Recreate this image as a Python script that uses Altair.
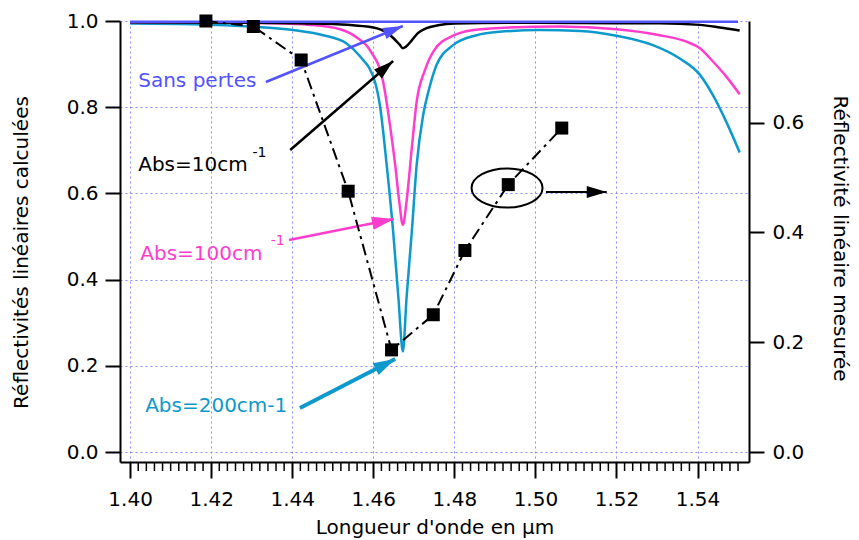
import math
import altair as alt
import pandas as pd

# ---------------- data ----------------
# calculated reflectivities (left axis)
wl_sans = [1.400, 1.420, 1.440, 1.460, 1.480, 1.500, 1.520, 1.540, 1.550]
r_sans = [0.998, 0.998, 0.998, 0.998, 0.998, 0.998, 0.998, 0.998, 0.998]

wl_abs10 = [1.400, 1.430, 1.450, 1.455, 1.460, 1.463, 1.465, 1.4665, 1.4673, 1.468,
            1.4695, 1.471, 1.473, 1.476, 1.480, 1.500, 1.520, 1.5307, 1.5406, 1.5455, 1.5504]
r_abs10 = [0.997, 0.996, 0.993, 0.990, 0.985, 0.975, 0.960, 0.945, 0.937, 0.940,
           0.955, 0.972, 0.983, 0.990, 0.994, 0.996, 0.995, 0.995, 0.991, 0.985, 0.978]

wl_abs100 = [1.400, 1.4173, 1.4337, 1.4444, 1.4518, 1.4559, 1.4592, 1.4624, 1.4641, 1.4654,
             1.4664, 1.4673, 1.4682, 1.4695, 1.4707, 1.4727, 1.4750, 1.4797, 1.4847, 1.4912,
             1.5060, 1.5200, 1.5307, 1.5373, 1.5406, 1.5438, 1.5471, 1.5504]
r_abs100 = [0.997, 0.997, 0.995, 0.991, 0.981, 0.962, 0.932, 0.860, 0.759, 0.666,
            0.581, 0.527, 0.581, 0.705, 0.813, 0.885, 0.932, 0.966, 0.979, 0.984,
            0.987, 0.981, 0.967, 0.952, 0.937, 0.906, 0.871, 0.830]

wl_abs200 = [1.400, 1.4173, 1.4296, 1.4402, 1.4476, 1.4534, 1.4567, 1.4604, 1.4617, 1.4633,
             1.4649, 1.4662, 1.4673, 1.4682, 1.4695, 1.4707, 1.4723, 1.4737, 1.4756, 1.4797,
             1.4855, 1.4912, 1.5011, 1.5110, 1.5200, 1.5290, 1.5356, 1.5406, 1.5438, 1.5471,
             1.5504]
r_abs200 = [0.994, 0.992, 0.987, 0.979, 0.967, 0.948, 0.918, 0.859, 0.800, 0.666,
            0.511, 0.357, 0.233, 0.357, 0.511, 0.666, 0.782, 0.840, 0.898, 0.944,
            0.967, 0.975, 0.979, 0.977, 0.966, 0.944, 0.913, 0.875, 0.828, 0.766,
            0.695]

# measured reflectivity (right axis)
wl_meas = [1.4187, 1.4304, 1.4422, 1.4538, 1.4645, 1.4748, 1.4826, 1.4933, 1.5065]
r_meas = [0.785, 0.775, 0.714, 0.475, 0.186, 0.250, 0.367, 0.487, 0.590]

# axis ticks
x_major = [1.40, 1.42, 1.44, 1.46, 1.48, 1.50, 1.52, 1.54]
x_minor = [round(1.400 + 0.002 * i, 3) for i in range(76) if i % 10 != 0]
yl_ticks = [0.0, 0.2, 0.4, 0.6, 0.8, 1.0]
yr_ticks = [0.0, 0.2, 0.4, 0.6]

# ---------------- styling ----------------
BLUE = "#5252ff"
PINK = "#ff3dcc"
CYAN = "#0d99cc"
BLACK = "#000000"
GRID = "#8c8cff"
FONT = "DejaVu Sans"

W, H = 629, 441
XMIN, XMAX = 1.3975, 1.5527
YL_MIN, YL_MAX = -0.0232, 1.0
YR_MIN, YR_MAX = -0.0182, 0.785
SX = W / (XMAX - XMIN)
SY = H / (YL_MAX - YL_MIN)

xs = alt.Scale(domain=[XMIN, XMAX], nice=False, zero=False)
yls = alt.Scale(domain=[YL_MIN, YL_MAX], nice=False, zero=False)
yrs = alt.Scale(domain=[YR_MIN, YR_MAX], nice=False, zero=False)

# annotations (data units of the left axis)
texts = pd.DataFrame({
    "label": ["Sans pertes", "Abs=10cm", "Abs=100cm", "Abs=200cm-1"],
    "w": [1.4020, 1.4020, 1.4025, 1.4037],
    "v": [0.847, 0.652, 0.4455, 0.093],
    "c": [BLUE, BLACK, PINK, CYAN],
})
sups = pd.DataFrame({
    "label": ["-1", "-1"],
    "w": [1.4302, 1.4347],
    "v": [0.6845, 0.480],
    "c": [BLACK, PINK],
})
arrows = pd.DataFrame({
    "w1": [1.4335, 1.4395, 1.4392, 1.4419, 1.5026],
    "v1": [0.8585, 0.7007, 0.4919, 0.1021, 0.6032],
    "w2": [1.4673, 1.4649, 1.4651, 1.4654, 1.5176],
    "v2": [0.9884, 0.9072, 0.5406, 0.2158, 0.6032],
    "c": [BLUE, BLACK, PINK, CYAN, BLACK],
    "sw": [2.5, 2.5, 2.5, 4, 2],
    "head": [20, 20, 22, 22, 20],
})
arrows["ang"] = [
    math.degrees(math.atan2(-(r.v2 - r.v1) * SY, (r.w2 - r.w1) * SX)) % 360
    for r in arrows.itertuples()
]
arrows["hs"] = (2 * arrows["head"]) ** 2
ellipse = pd.DataFrame({"w": [1.4930], "v": [0.6125]})

HEAD = "M0,0L-1,-0.3L-1,0.3Z"
k, c = 0.55, 0.5523
ELL = (f"M1,0C1,{c*k:.4f} {c:.4f},{k} 0,{k}C-{c:.4f},{k} -1,{c*k:.4f} -1,0"
       f"C-1,-{c*k:.4f} -{c:.4f},-{k} 0,-{k}C{c:.4f},-{k} 1,-{c*k:.4f} 1,0Z")

# ---------------- axes ----------------
x_axis = alt.Axis(values=x_major, format=".2f", tickSize=16, tickWidth=2, domainWidth=2,
                  labelFontSize=20, labelPadding=11, labelFlush=False, labelOverlap=False,
                  grid=True, gridColor=GRID, gridDash=[2, 3], gridWidth=1,
                  title="Longueur d'onde en µm", titleFontSize=20, titleFontWeight="normal",
                  titleX=W / 2, titleY=71, titleBaseline="alphabetic", titleAlign="center")
yl_axis = alt.Axis(values=yl_ticks, format=".1f", orient="left", tickSize=15, tickWidth=2,
                   domainWidth=2, labelFontSize=20, labelPadding=7, labelOverlap=False,
                   labelFlush=False,
                   grid=True, gridColor=GRID, gridDash=[2, 3], gridWidth=1,
                   title="Réflectivités linéaires calculées", titleFontSize=20,
                   titleFontWeight="normal", titleAngle=270, titleX=-93, titleY=231,
                   titleBaseline="alphabetic", titleAlign="center")
yr_axis = alt.Axis(values=yr_ticks, format=".1f", orient="right", tickSize=15, tickWidth=2,
                   domainWidth=2, labelFontSize=20, labelPadding=8, labelOverlap=False,
                   labelFlush=False, grid=False,
                   title="Réflectivité linéaire mesurée", titleFontSize=20,
                   titleFontWeight="normal", titleAngle=90, titleX=84, titleY=217,
                   titleBaseline="alphabetic", titleAlign="center")


def X(field):
    return alt.X(field, scale=xs, axis=x_axis)


def YL(field):
    return alt.Y(field, scale=yls, axis=yl_axis)


def YR(field):
    return alt.Y(field, scale=yrs, axis=yr_axis)


# ---------------- left (calculated) group ----------------
def curve(wl, r, color):
    df = pd.DataFrame({"w": wl, "v": r})
    return alt.Chart(df).mark_line(color=color, strokeWidth=2.5, interpolate="monotone").encode(
        x=X("w:Q"), y=YL("v:Q"))


c200 = curve(wl_abs200, r_abs200, CYAN)
c100 = curve(wl_abs100, r_abs100, PINK)
c10 = curve(wl_abs10, r_abs10, BLACK)
c0 = curve(wl_sans, r_sans, BLUE)

minor = alt.Chart(pd.DataFrame({"t": x_minor})).mark_rule(color="black", strokeWidth=1.5).encode(
    x=X("t:Q"), y=alt.value(H), y2=alt.value(H + 9))

txt = alt.Chart(texts).mark_text(align="left", baseline="alphabetic", fontSize=20, font=FONT).encode(
    x=X("w:Q"), y=YL("v:Q"), text="label:N", color=alt.Color("c:N", scale=None))
sup = alt.Chart(sups).mark_text(align="left", baseline="alphabetic", fontSize=14, font=FONT).encode(
    x=X("w:Q"), y=YL("v:Q"), text="label:N", color=alt.Color("c:N", scale=None))
arr = alt.Chart(arrows).mark_rule().encode(
    x=X("w1:Q"), y=YL("v1:Q"), x2="w2:Q", y2="v2:Q",
    color=alt.Color("c:N", scale=None), strokeWidth=alt.StrokeWidth("sw:Q", scale=None))
heads = alt.Chart(arrows).mark_point(shape=HEAD, filled=True, opacity=1, strokeWidth=0).encode(
    x=X("w2:Q"), y=YL("v2:Q"),
    angle=alt.Angle("ang:Q", scale=None), color=alt.Color("c:N", scale=None),
    size=alt.Size("hs:Q", scale=None))
ell = alt.Chart(ellipse).mark_point(shape=ELL, filled=False, size=71 * 71, strokeWidth=2,
                                    color="black", opacity=1).encode(
    x=X("w:Q"), y=YL("v:Q"))

left = alt.layer(c200, c100, c10, c0, minor, arr, heads, ell, txt, sup)

# ---------------- right (measured) group ----------------
meas = pd.DataFrame({"w": wl_meas, "v": r_meas})
mline = alt.Chart(meas).mark_line(color="black", strokeWidth=2, strokeDash=[12, 5, 3, 5]).encode(
    x=X("w:Q"), y=YR("v:Q"))
msq = alt.Chart(meas).mark_square(size=169, color="black", filled=True, opacity=1).encode(
    x=X("w:Q"), y=YR("v:Q"))
right = alt.layer(mline, msq)

chart = alt.layer(left, right).resolve_scale(y="independent").properties(
    width=W, height=H, autosize=alt.AutoSizeParams(type="none"),
    padding={"left": 112, "top": 13, "right": 102, "bottom": 78},
).configure_view(stroke=None).configure_axis(
    labelFont=FONT, titleFont=FONT, labelColor="black", titleColor="black",
    domainColor="black", tickColor="black",
).configure_text(font=FONT)

chart.save("out.html", embed_options={"renderer": "svg", "actions": False})
